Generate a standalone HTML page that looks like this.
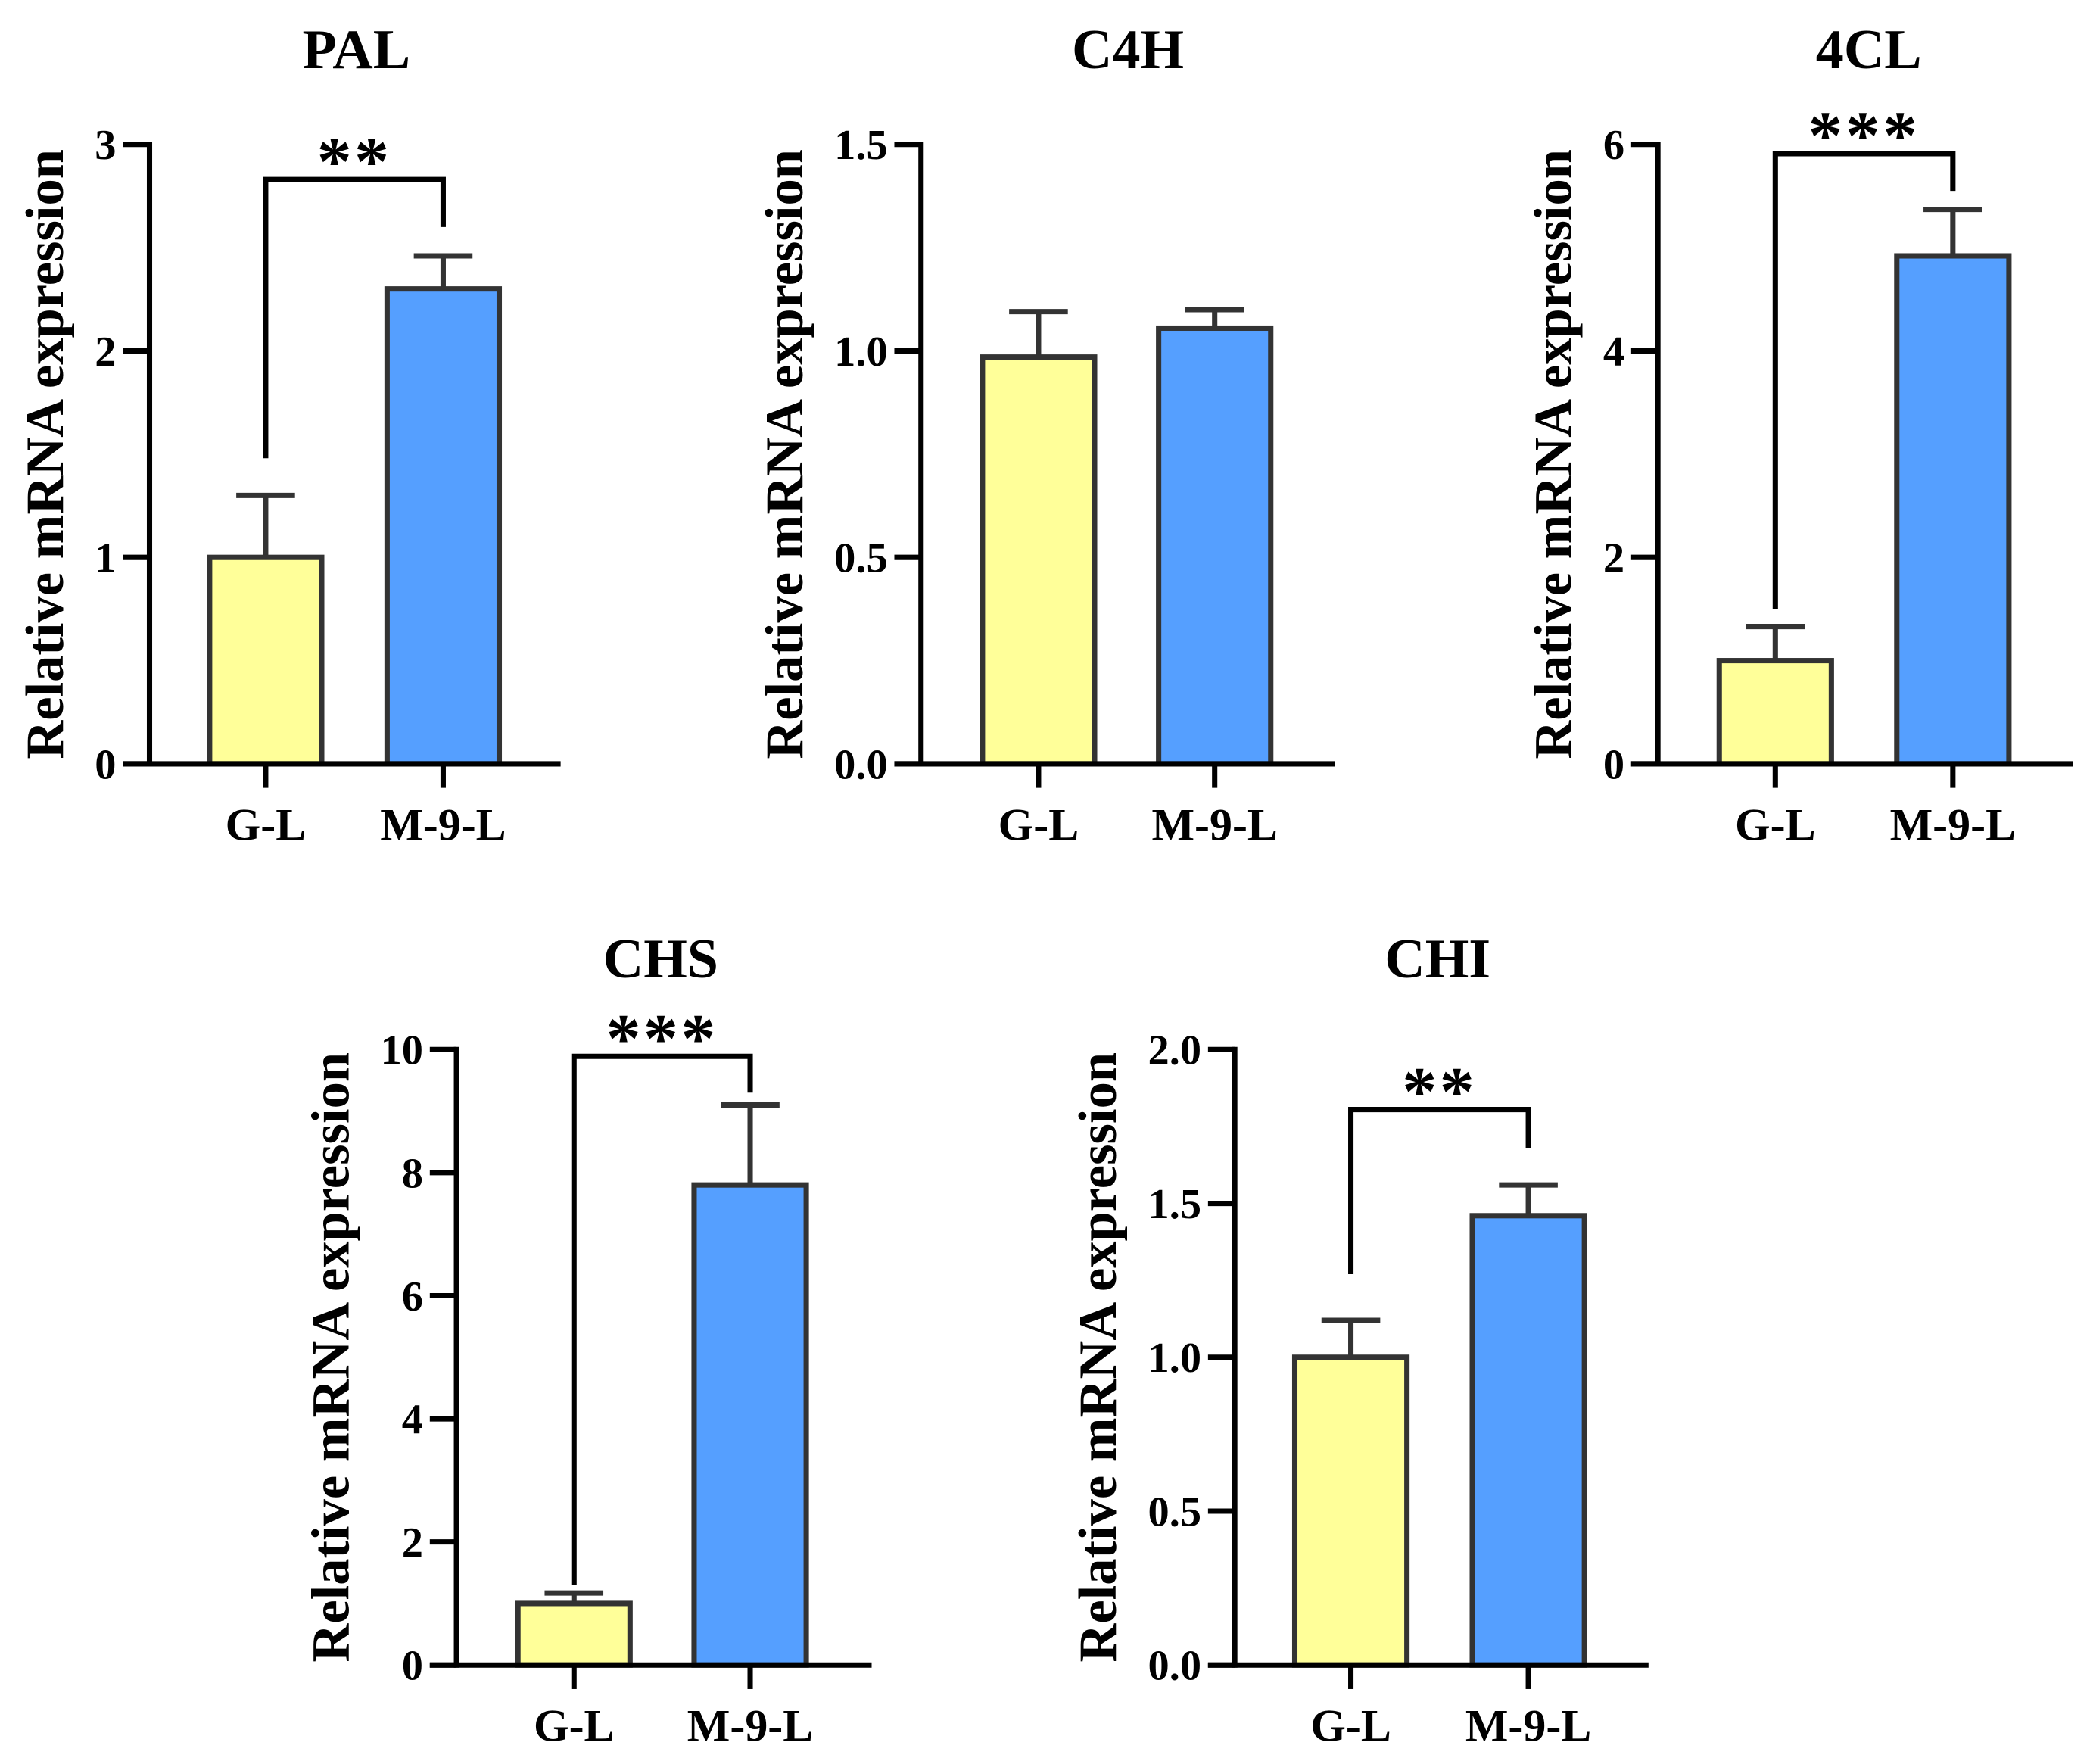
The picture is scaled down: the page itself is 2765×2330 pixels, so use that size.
<!DOCTYPE html>
<html><head><meta charset="utf-8"><style>
html,body{margin:0;padding:0;background:#fff;}
svg{display:block;}
text{font-family:"Liberation Serif",serif;font-weight:bold;fill:#000;}
</style></head><body>
<svg id="fig" width="2765" height="2330" viewBox="0 0 1568 1321" xmlns="http://www.w3.org/2000/svg"></svg>
<script>
const titles = ["PAL","C4H","4CL","CHS","CHI"];
const categories = ["G-L","M-9-L"];
const means = [[1.0,2.3],[0.985,1.055],[1.0,4.92],[1.0,7.8],[1.0,1.46]];
const errs = [[0.3,0.16],[0.11,0.045],[0.33,0.45],[0.17,1.3],[0.12,0.1]];
const yMax = [3,1.5,6,10,2.0];
const tickVals = [[0,1,2,3],[0,0.5,1.0,1.5],[0,2,4,6],[0,2,4,6,8,10],[0,0.5,1.0,1.5,2.0]];
const tickLabels = [["0","1","2","3"],["0.0","0.5","1.0","1.5"],["0","2","4","6"],["0","2","4","6","8","10"],["0.0","0.5","1.0","1.5","2.0"]];
const sigText = ["**","","***","***","**"];
const sigTop = [2.83,null,5.91,9.89,1.805];
const sigLeftEnd = [1.48,null,1.5,1.3,1.27];
const sigRightEnd = [2.6,null,5.55,9.3,1.68];

const L = [
 {ax:112,top:108,base:572,xEnd:420,c:[199,332],tx:267,ty:51},
 {ax:690,top:108,base:572,xEnd:1000,c:[778,910],tx:845,ty:51},
 {ax:1242,top:108,base:572,xEnd:1553,c:[1330,1463],tx:1400,ty:51},
 {ax:342,top:786,base:1247,xEnd:653,c:[430,562],tx:495,ty:732},
 {ax:925,top:786,base:1247,xEnd:1235,c:[1012,1145],tx:1077,ty:732}
];
const fills=["#FFFF99","#559FFF"];
const svg=document.getElementById('fig');
const NS="http://www.w3.org/2000/svg";
function mk(tag,attrs,parent){const e=document.createElementNS(NS,tag);for(const k in attrs)e.setAttribute(k,attrs[k]);(parent||svg).appendChild(e);return e;}
for(let p=0;p<5;p++){
  const l=L[p];
  const g=mk('g',{});
  
  
  const y=v=>l.base-(v/yMax[p])*(l.base-l.top);
  const t=mk('text',{x:l.tx,y:l.ty,'text-anchor':'middle','font-size':42},g);t.textContent=titles[p];
  
  
  for(let i=0;i<2;i++){
    const cx=l.c[i],w=84;
    const eb=mk('g',{},g);
    
    
    mk('line',{x1:cx,x2:cx,y1:y(means[p][i]),y2:y(means[p][i]+errs[p][i]),stroke:'#333','stroke-width':4},eb);
    mk('line',{x1:cx-22,x2:cx+22,y1:y(means[p][i]+errs[p][i]),y2:y(means[p][i]+errs[p][i]),stroke:'#333','stroke-width':4},eb);
    const r=mk('rect',{x:cx-w/2,y:y(means[p][i]),width:w,height:l.base-y(means[p][i]),fill:fills[i],stroke:'#333','stroke-width':4},g);
    
    
    mk('line',{x1:cx,x2:cx,y1:l.base,y2:l.base+18,stroke:'#000','stroke-width':4},g);
    const xt=mk('text',{x:cx,y:l.base+57,'text-anchor':'middle','font-size':34},g);xt.textContent=categories[i];
    
    
  }
  const ya=mk('line',{x1:l.ax,x2:l.ax,y1:l.top-2,y2:l.base+2,stroke:'#000','stroke-width':4},g);
  
  
  const xa=mk('line',{x1:l.ax-20,x2:l.xEnd,y1:l.base,y2:l.base,stroke:'#000','stroke-width':4},g);
  
  
  let maxW=0;
  tickVals[p].forEach((v,k)=>{
    mk('line',{x1:l.ax-20,x2:l.ax,y1:y(v),y2:y(v),stroke:'#000','stroke-width':4},g);
    const tl=mk('text',{x:l.ax-25,y:y(v)+11,'text-anchor':'end','font-size':32},g);tl.textContent=tickLabels[p][k];
    
    
    maxW=Math.max(maxW,tl.getComputedTextLength());
  });
  const yl=mk('text',{x:0,y:0,'text-anchor':'middle','font-size':40,transform:`translate(${l.ax-25-maxW-24},${(l.top+l.base)/2}) rotate(-90)`},g);yl.textContent="Relative mRNA expression";
  
  
  if(sigTop[p]!==null){
    const b=mk('path',{d:`M${l.c[0]},${y(sigLeftEnd[p])}V${y(sigTop[p])}H${l.c[1]}V${y(sigRightEnd[p])}`,fill:'none',stroke:'#000','stroke-width':4},g);
    
    
    const s=mk('text',{x:(l.c[0]+l.c[1])/2,y:y(sigTop[p])+4,'text-anchor':'middle','font-size':52,'letter-spacing':2},g);s.textContent=sigText[p];
    
    
  }
}
</script>
</body></html>
